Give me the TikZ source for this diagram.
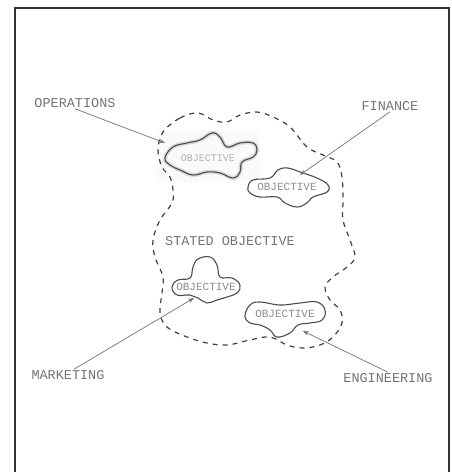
\documentclass[tikz,border=0pt]{standalone}
\usepackage{fontspec}
\setmonofont{Liberation Mono}
\usetikzlibrary{arrows.meta}
\begin{document}
\begin{tikzpicture}[x=1pt,y=-1pt,
  lbl/.style={font=\ttfamily\fontsize{13.5}{14}\selectfont, text=black!55, inner sep=1pt},
  objtxt/.style={font=\ttfamily\fontsize{11}{12}\selectfont, text=black!45, inner sep=0pt},
  blob/.style={draw=black!70, line width=1.1pt},
  bound/.style={draw=black!75, line width=1.2pt, dash pattern=on 5pt off 5pt},
  arr/.style={draw=black!55, line width=0.7pt, -{Stealth[length=6pt,width=4.5pt]}},
  frameline/.style={draw=black!80, line width=1.8pt}]
\useasboundingbox (0,0) rectangle (452,472);
% frame
\draw[frameline] (15,472) -- (15,8) -- (449,8) -- (449,472);
% faint smear behind operations objective
\fill[black!2] (156,130) rectangle (260,182);
% stated objective boundary
\draw[bound] plot[smooth cycle, tension=0.6] coordinates {
 (163,132) (180,118) (198,113) (213,120) (227,122) (240,115) (257,112) (273,117)
 (290,127) (307,147) (323,155) (337,162) (342,177) (343,200) (343,220) (350,240)
 (355,257) (347,267) (333,277) (325,287) (330,300) (340,310) (342,323) (333,337)
 (320,345) (303,348) (287,345) (270,337) (250,340) (227,345) (207,343) (187,337)
 (167,327) (160,313) (162,293) (163,277) (155,257) (153,240) (160,220) (172,203)
 (173,190) (170,177) (162,167) (158,150)};
% operations objective
\draw[draw=black!15, line width=4pt] plot[smooth cycle, tension=0.7] coordinates {
 (165,158) (173,147) (187,143) (200,140) (212,133) (220,137) (227,147) (240,143)
 (253,143) (257,150) (253,157) (242,162) (240,172) (233,178) (220,173) (207,172)
 (193,175) (180,170) (170,165)};
\draw[blob] plot[smooth cycle, tension=0.7] coordinates {
 (165,158) (173,147) (187,143) (200,140) (212,133) (220,137) (227,147) (240,143)
 (253,143) (257,150) (253,157) (242,162) (240,172) (233,178) (220,173) (207,172)
 (193,175) (180,170) (170,165)};
% finance objective
\draw[blob] plot[smooth cycle, tension=0.7] coordinates {
 (248,187) (253,180) (270,178) (278,170) (288,168) (300,172) (317,178) (328,185)
 (327,192) (313,197) (307,203) (297,207) (285,203) (277,197) (260,197) (250,193)};
% marketing objective
\draw[blob] plot[smooth cycle, tension=0.7] coordinates {
 (172,287) (178,280) (190,278) (193,267) (198,259) (210,257) (217,265) (220,277)
 (232,278) (240,285) (237,293) (227,297) (217,300) (207,303) (198,298) (190,295)
 (177,295)};
% engineering objective
\draw[blob] plot[smooth cycle, tension=0.7] coordinates {
 (245,316) (250,305) (260,302) (280,305) (300,303) (317,302) (325,310) (322,320)
 (310,323) (298,325) (290,333) (277,337) (270,330) (260,325) (250,323)};
% texts
\node[lbl] (ops) at (75,103) {OPERATIONS};
\node[lbl] (fin) at (390,106) {FINANCE};
\node[lbl] (stated) at (230,241) {STATED OBJECTIVE};
\node[lbl] (mkt) at (68,375) {MARKETING};
\node[lbl] (eng) at (388,378) {ENGINEERING};
\node[objtxt, text=black!30, font=\ttfamily\fontsize{10}{11}\selectfont] (o1) at (208,158) {OBJECTIVE};
\node[objtxt] (o2) at (287,187) {OBJECTIVE};
\node[objtxt] (o3) at (206,287) {OBJECTIVE};
\node[objtxt] (o4) at (285,314) {OBJECTIVE};
% arrows
\coordinate (opsTip) at (165,143);
\coordinate (finTip) at (300,175);
\coordinate (mktTip) at (194,298);
\coordinate (engTip) at (303,331);
\draw[arr] (ops.south) -- (opsTip);
\draw[arr] (fin.south) -- (finTip);
\draw[arr] ([xshift=6pt]mkt.north) -- (mktTip);
\draw[arr] (eng.north) -- (engTip);
\end{tikzpicture}
\end{document}
